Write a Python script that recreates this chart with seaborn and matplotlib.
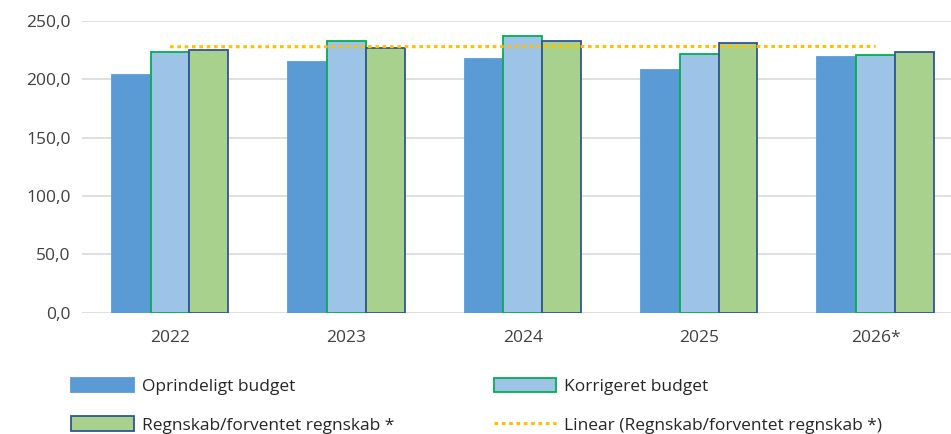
import numpy as np
import pandas as pd
import matplotlib.pyplot as plt
import seaborn as sns
from matplotlib.ticker import FuncFormatter
from matplotlib.patches import Patch
from matplotlib.lines import Line2D

#### Data
years = ['2022', '2023', '2024', '2025', '2026*']
oprindeligt = [203.8, 215.0, 217.5, 208.0, 219.0]
korrigeret = [223.5, 233.0, 237.0, 222.0, 220.5]
regnskab = [225.2, 227.0, 233.0, 231.0, 223.5]
series = ['Oprindeligt budget', 'Korrigeret budget', 'Regnskab/forventet regnskab *']
trend_label = 'Linear (Regnskab/forventet regnskab *)'
yticks = [0, 50, 100, 150, 200, 250]

df = pd.DataFrame({
    'year': years * 3,
    'value': oprindeligt + korrigeret + regnskab,
    'series': [series[0]] * 5 + [series[1]] * 5 + [series[2]] * 5,
})

fills = ['#5B9BD5', '#9DC3E6', '#A9D18E']
edges = ['#5B9BD5', '#00B050', '#2F5597']

sns.set_theme(style='white')
plt.rcParams['font.family'] = ['Open Sans', 'DejaVu Sans']

fig = plt.figure(figsize=(9.51, 4.34), dpi=100)
ax = fig.add_axes([0.086, 0.279, 0.92, 0.673])

sns.barplot(data=df, x='year', y='value', hue='series', order=years, hue_order=series,
            palette=fills, width=0.66, saturation=1, legend=False, ax=ax)
for cont, ec in zip(ax.containers, edges):
    for bar in cont:
        bar.set_edgecolor(ec)
        bar.set_linewidth(1.3)

#### Linear trendline through the Regnskab series
xs = np.arange(len(years))
k, m = np.polyfit(xs, regnskab, 1)
ax.plot(xs, k * xs + m, color='#FFC000', linestyle=(0, (1.2, 1.2)), linewidth=2.2, zorder=5)

ax.set_ylim(0, 250)
ax.set_xlim(-0.5, 4.46)
ax.set_yticks(yticks)
ax.yaxis.set_major_formatter(FuncFormatter(lambda v, p: f'{v:.1f}'.replace('.', ',')))
ax.grid(axis='y', color='#D9D9D9', linewidth=1.2)
ax.set_axisbelow(True)
for s in ax.spines.values():
    s.set_visible(False)
ax.set_xlabel('')
ax.set_ylabel('')
ax.tick_params(axis='both', length=0, labelsize=12.5, colors='#404040')
ax.tick_params(axis='y', pad=8)
ax.tick_params(axis='x', pad=12)

#### Legend as two columns placed by hand
h = [Patch(facecolor=fills[i], edgecolor=edges[i], linewidth=1.3) for i in range(3)]
h.append(Line2D([0], [0], color='#FFC000', linestyle=(0, (1.2, 1.2)), linewidth=2.2))
kw = dict(frameon=False, fontsize=12.5, handlelength=3.6, handleheight=0.9,
          labelspacing=1.25, handletextpad=0.45, borderaxespad=0, borderpad=0,
          labelcolor='#262626')
leg1 = fig.legend([h[0], h[2]], [series[0], series[2]], loc='upper left',
                  bbox_to_anchor=(0.075, 0.13), **kw)
leg2 = fig.legend([h[1], h[3]], [series[1], trend_label], loc='upper left',
                  bbox_to_anchor=(0.519, 0.13), **kw)

fig.savefig('out.png', dpi=100)
